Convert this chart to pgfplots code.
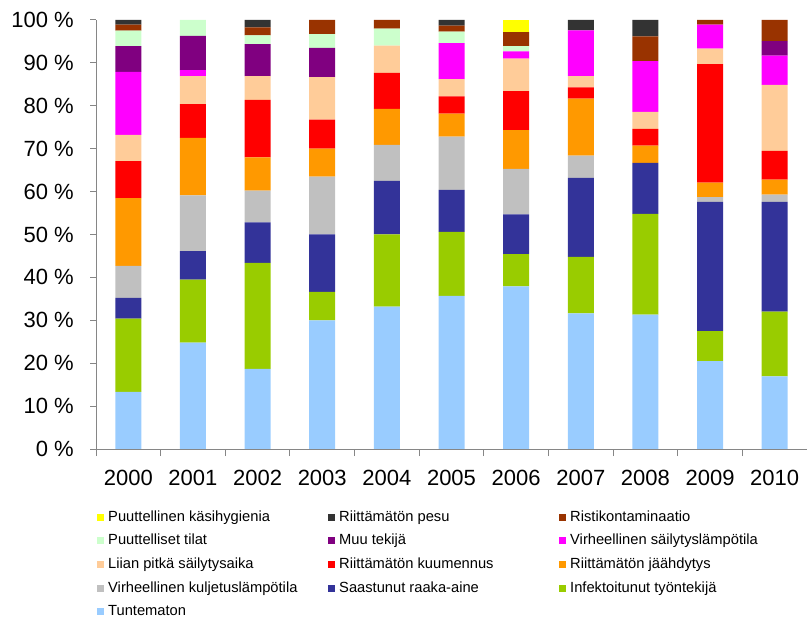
\documentclass[border=0pt]{standalone}
\usepackage{pgfplots}
\usepackage{pgfplotstable}
\pgfplotsset{compat=1.18}
\usepackage{fontspec}
\setmainfont{Liberation Sans}

\definecolor{cTunt}{HTML}{99CCFF}
\definecolor{cInf}{HTML}{99CC00}
\definecolor{cSaast}{HTML}{333399}
\definecolor{cKulj}{HTML}{C0C0C0}
\definecolor{cJaah}{HTML}{FF9900}
\definecolor{cKuum}{HTML}{FF0000}
\definecolor{cLiian}{HTML}{FFCC99}
\definecolor{cVirh}{HTML}{FF00FF}
\definecolor{cMuu}{HTML}{800080}
\definecolor{cTilat}{HTML}{CCFFCC}
\definecolor{cRisti}{HTML}{993300}
\definecolor{cPesu}{HTML}{333333}
\definecolor{cKasi}{HTML}{FFFF00}
\definecolor{axgray}{HTML}{868686}

\pgfplotstableread{
idx Tunt Inf Saast Kulj Jaah Kuum Liian Virh Muu Tilat Risti Pesu Kasi
0 13.3 17.1 4.8 7.5 15.8 8.6 6.1 14.7 6.0 3.6 1.4 1.1 0
1 24.8 14.7 6.6 13.0 13.4 7.9 6.5 1.4 8.0 3.7 0 0 0
2 18.7 24.7 9.4 7.4 7.8 13.4 5.5 0 7.5 2.0 1.9 1.7 0
3 30.0 6.6 13.4 13.5 6.5 6.8 9.9 0 6.8 3.2 3.3 0 0
4 33.2 16.8 12.5 8.4 8.4 8.4 6.3 0 0 4.0 2.0 0 0
5 35.7 14.9 9.8 12.4 5.4 4.0 4.0 8.4 0 2.7 1.4 1.3 0
6 37.9 7.5 9.3 10.6 9.0 9.1 7.6 1.7 0 1.2 3.3 0 2.8
7 31.6 13.2 18.4 5.2 13.3 2.6 2.6 10.7 0 0 0 2.4 0
8 31.3 23.5 11.9 0 4.0 3.9 4.0 11.8 0 0 5.8 3.8 0
9 20.5 7.0 30.1 1.1 3.4 27.6 3.6 5.6 0 0 1.1 0 0
10 16.9 15.1 25.6 1.7 3.5 6.7 15.4 6.8 3.4 0 4.9 0 0
}\datatable

\newcommand{\LE}[1]{\makebox[216bp][l]{#1}}

\begin{document}
\begin{tikzpicture}
\path[use as bounding box] (0,0) rectangle (807bp,621bp);
\begin{axis}[
  at={(96bp,172bp)}, anchor=south west,
  scale only axis, width=711bp, height=429bp,
  ybar stacked, bar width=26bp,
  xmin=-0.5, xmax=10.5, ymin=0, ymax=100,
  axis x line*=bottom, axis y line*=left,
  axis line style={draw=axgray, line width=1bp},
  tick align=outside,
  xtick={0,...,10},
  xticklabels={2000,2001,2002,2003,2004,2005,2006,2007,2008,2009,2010},
  major x tick style={draw=none},
  minor xtick={-0.5,0.5,...,10.5},
  minor tick length=7bp,
  major tick length=6bp,
  every tick/.style={draw=axgray, line width=1bp},
  ytick={0,10,...,100},
  yticklabels={0 \%,10 \%,20 \%,30 \%,40 \%,50 \%,60 \%,70 \%,80 \%,90 \%,100 \%},
  ticklabel style={font=\fontsize{22bp}{26bp}\selectfont},
  yticklabel style={inner sep=0pt, xshift=-16bp},
  xticklabel style={inner sep=0pt, yshift=-15bp},
  legend columns=3,
  reverse legend,
  legend cell align=left,
  legend image code/.code={\draw[#1, draw=none] (0bp,-3.5bp) rectangle (7bp,3.5bp);},
  legend style={draw=none, fill=none, at={(0.0014,-0.1422)}, anchor=north west,
    font=\fontsize{14.7bp}{17bp}\selectfont, inner sep=0pt,
    column sep=4bp, row sep=9.6bp,
    nodes={inner sep=0pt, text height=11bp, text depth=3bp}},
]
\addplot[fill=cTunt, draw=none] table[x=idx, y=Tunt] {\datatable};
\addlegendentry{\LE{Tuntematon}}
\addplot[fill=cInf, draw=none] table[x=idx, y=Inf] {\datatable};
\addlegendentry{\LE{Infektoitunut työntekijä}}
\addplot[fill=cSaast, draw=none] table[x=idx, y=Saast] {\datatable};
\addlegendentry{\LE{Saastunut raaka-aine}}
\addplot[fill=cKulj, draw=none] table[x=idx, y=Kulj] {\datatable};
\addlegendentry{\LE{Virheellinen kuljetuslämpötila}}
\addplot[fill=cJaah, draw=none] table[x=idx, y=Jaah] {\datatable};
\addlegendentry{\LE{Riittämätön jäähdytys}}
\addplot[fill=cKuum, draw=none] table[x=idx, y=Kuum] {\datatable};
\addlegendentry{\LE{Riittämätön kuumennus}}
\addplot[fill=cLiian, draw=none] table[x=idx, y=Liian] {\datatable};
\addlegendentry{\LE{Liian pitkä säilytysaika}}
\addplot[fill=cVirh, draw=none] table[x=idx, y=Virh] {\datatable};
\addlegendentry{\LE{Virheellinen säilytyslämpötila}}
\addplot[fill=cMuu, draw=none] table[x=idx, y=Muu] {\datatable};
\addlegendentry{\LE{Muu tekijä}}
\addplot[fill=cTilat, draw=none] table[x=idx, y=Tilat] {\datatable};
\addlegendentry{\LE{Puuttelliset tilat}}
\addplot[fill=cRisti, draw=none] table[x=idx, y=Risti] {\datatable};
\addlegendentry{\LE{Ristikontaminaatio}}
\addplot[fill=cPesu, draw=none] table[x=idx, y=Pesu] {\datatable};
\addlegendentry{\LE{Riittämätön pesu}}
\addplot[fill=cKasi, draw=none] table[x=idx, y=Kasi] {\datatable};
\addlegendentry{\LE{Puuttellinen käsihygienia}}
\end{axis}
\end{tikzpicture}
\end{document}
